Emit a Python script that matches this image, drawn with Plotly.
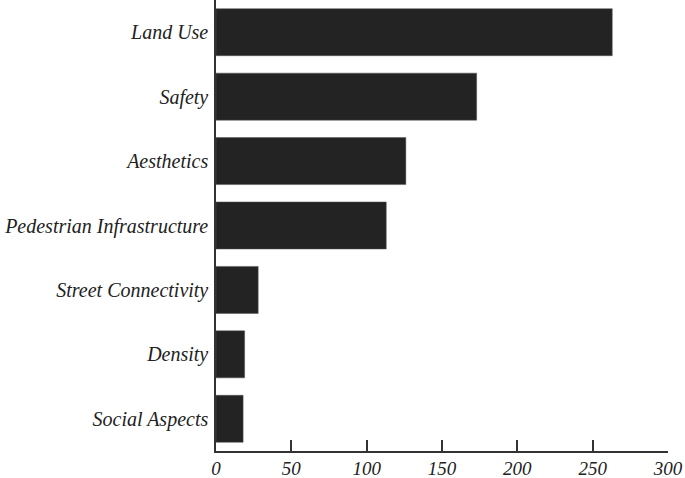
import plotly.graph_objects as go

categories = ["Land Use", "Safety", "Aesthetics", "Pedestrian Infrastructure",
              "Street Connectivity", "Density", "Social Aspects"]
values = [263, 173, 126, 113, 28, 19, 18]
x_ticks = [0, 50, 100, 150, 200, 250, 300]

font_family = "Liberation Serif, DejaVu Serif, serif"

fig = go.Figure(go.Bar(
    x=values, y=categories, orientation="h",
    marker=dict(color="#232323", line=dict(color="#555555", width=0.5)),
))

fig.update_layout(
    width=685, height=478,
    margin=dict(l=216, r=17, t=0, b=27),
    paper_bgcolor="white", plot_bgcolor="white",
    bargap=0.27,
    showlegend=False,
    font=dict(family=font_family, size=20, color="#222222"),
)
fig.update_xaxes(
    range=[0, 300], tickvals=x_ticks, ticktext=[f"<i>{v}</i>" for v in x_ticks],
    showgrid=False, zeroline=False,
    showline=True, linecolor="#333333", linewidth=1.5,
    ticks="inside", ticklen=11, tickwidth=1.5, tickcolor="#333333",
    tickfont=dict(size=19, family=font_family, color="#222222"),
    ticklabelstandoff=-1, automargin=False,
)
fig.update_yaxes(
    autorange="reversed", showgrid=False, zeroline=False,
    showline=True, linecolor="#333333", linewidth=1.5,
    ticks="", tickvals=categories, ticktext=[f"<i>{c}</i>" for c in categories],
    tickfont=dict(size=20, family=font_family, color="#222222"),
    ticklabelstandoff=2, automargin=False,
)

fig.write_html("out.html", config={"displayModeBar": False},
               post_script="document.body.style.margin='0';")
